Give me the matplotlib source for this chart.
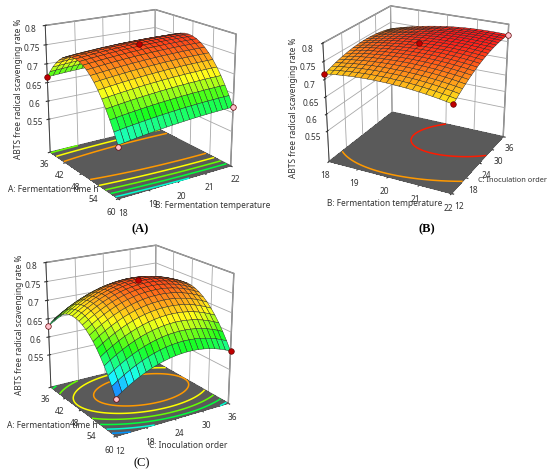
import numpy as np
import matplotlib
matplotlib.use('Agg')
import matplotlib.pyplot as plt
from matplotlib.colors import LinearSegmentedColormap, Normalize
from mpl_toolkits.mplot3d import proj3d

plt.rcParams['font.family'] = ['Noto Sans', 'DejaVu Sans']
plt.rcParams['grid.color'] = '#a8a8a8'
plt.rcParams['grid.linewidth'] = 0.6

# ---- factor levels / ticks ----
time_ticks = [36, 42, 48, 54, 60]          # A: Fermentation time h
temp_ticks = [18, 19, 20, 21, 22]          # B: Fermentation temperature
order_ticks = [12, 18, 24, 30, 36]         # C: Inoculation order
z_ticks = [0.55, 0.6, 0.65, 0.7, 0.75, 0.8]
z_range = [0.457, 0.8]

# ---- quadratic model coefficients (coded units): b0, b_x, b_y, b_xy, b_xx, b_yy ----
coef_A = [0.758, -0.0325, 0.0075, 0.005, -0.118, -0.005]
coef_B = [0.765, 0.0075, 0.02, 0.0125, -0.015, -0.02]
coef_C = [0.756, -0.0325, 0.0175, 0.005, -0.10, -0.046]

# ---- design points ----
ptsA_x = [36, 48, 60, 60]
ptsA_y = [18, 20, 18, 22]
ptsA_z = [0.665, 0.765, 0.585, 0.615]
ptsA_above = [1, 1, 0, 0]

ptsB_x = [18, 20, 22, 22]
ptsB_y = [12, 24, 12, 36]
ptsB_z = [0.715, 0.772, 0.705, 0.77]
ptsB_above = [1, 1, 1, 0]

ptsC_x = [36, 48, 60, 60]
ptsC_y = [12, 24, 12, 36]
ptsC_z = [0.63, 0.768, 0.553, 0.60]
ptsC_above = [0, 1, 0, 1]

contour_levels = [0.58, 0.61, 0.64, 0.67, 0.70, 0.73, 0.765]

cmap = LinearSegmentedColormap.from_list(
    'de', [(0.0, '#0000ff'), (0.21, '#00ffff'), (0.42, '#00ff00'),
           (0.625, '#ffff00'), (0.78, '#ff8000'), (0.93, '#ff0000'), (1.0, '#ff0000')])
norm = Normalize(vmin=0.55, vmax=0.79)

W, H = 550, 476
fig = plt.figure(figsize=(W / 100, H / 100), dpi=100)
TXT = '#333333'

# where the reference shows the box corners (pixels from top-left):
# left-floor, front-floor, right-floor, left-top, back-top, right-top
boxA = [(48, 152), (118, 200), (232, 165), (48, 25), (155, 10), (235, 34)]
boxB = [(326, 162), (453, 195), (505, 135), (325, 41), (392, 5), (505, 27)]
boxC = [(50, 387), (115, 437), (230, 403), (48, 263), (155, 245), (233, 273)]


def ftext(x, y, s, **kw):
    fig.text(x / W, 1 - y / H, s, **kw)


def panel(rect, xt, yt, coef, px, py, pz, above):
    ax = fig.add_axes(rect, projection='3d', computed_zorder=False)
    b0, bx, by, bxy, bxx, byy = coef

    def model(X, Y):
        a = (X - xt[2]) / (xt[-1] - xt[2])
        b = (Y - yt[2]) / (yt[-1] - yt[2])
        return b0 + bx * a + by * b + bxy * a * b + bxx * a * a + byy * b * b

    x = np.linspace(xt[0], xt[-1], 21)
    y = np.linspace(yt[0], yt[-1], 21)
    X, Y = np.meshgrid(x, y)
    Z = model(X, Y)
    xf = np.linspace(xt[0], xt[-1], 121)
    yf = np.linspace(yt[0], yt[-1], 121)
    XF, YF = np.meshgrid(xf, yf)
    ZF = model(XF, YF)

    zmin = z_range[0]
    X2, Y2 = np.meshgrid([xt[0], xt[-1]], [yt[0], yt[-1]])
    ax.plot_surface(X2, Y2, np.full_like(X2, zmin, dtype=float), color='#5a5a5a',
                    shade=False, linewidth=0, antialiased=False, zorder=1)
    ax.contour(XF, YF, ZF, levels=contour_levels, zdir='z', offset=zmin,
               cmap=cmap, norm=norm, linewidths=1.1, zorder=2)
    fc = cmap(norm(Z))
    fc[..., :3] = 0.1 + 0.9 * fc[..., :3]
    ax.plot_surface(X, Y, Z, facecolors=fc, edgecolor='#202020', linewidth=0.3,
                    shade=False, rstride=1, cstride=1, zorder=3)
    for xi, yi, zi, ab in zip(px, py, pz, above):
        ax.scatter([xi], [yi], [zi], s=16, c='#c00000' if ab else '#ffc0cc',
                   edgecolors='#600000', linewidths=0.5, depthshade=False, zorder=5)

    ax.set_xlim(xt[0], xt[-1])
    ax.set_ylim(yt[0], yt[-1])
    ax.set_zlim(*z_range)
    ax.set_xticks(xt)
    ax.set_yticks(yt)
    ax.set_zticks(z_ticks)
    ax.set_zticklabels([f'{v:g}' for v in z_ticks])

    for axis in (ax.xaxis, ax.yaxis):
        axis.set_pane_color((1, 1, 1, 1))
        axis.pane.set_edgecolor('#606060')
    ax.zaxis.set_pane_color((1, 1, 1, 0))
    for axis in (ax.xaxis, ax.yaxis, ax.zaxis):
        axis.line.set_color('#404040')
        axis.line.set_linewidth(0.7)
        axis.set_rotate_label(False)
        axis._axinfo['grid'].update(color='#a8a8a8', linewidth=0.6)
    ax.zaxis.set_ticks_position('lower')
    ax.zaxis.set_label_position('lower')
    ax.tick_params(axis='x', labelsize=6, pad=-3, colors=TXT)
    ax.tick_params(axis='y', labelsize=6, pad=-3, colors=TXT)
    ax.tick_params(axis='z', labelsize=6, pad=-1, colors=TXT)
    ax.set_zlabel('ABTS free radical scavenging rate %', fontsize=6,
                  color=TXT, rotation=90, labelpad=-6)
    return ax


def corners(ax):
    x0, x1 = ax.get_xlim()
    y0, y1 = ax.get_ylim()
    z0, z1 = ax.get_zlim()
    cx = np.array([x0, x1, x1, x0, x0, x1])
    cy = np.array([y0, y0, y1, y0, y1, y1])
    cz = np.array([z0, z0, z0, z1, z1, z1])
    return cx, cy, cz


def set_camera(ax, p, zoom=1.0):
    elev, azim, logf, asx, asz = p
    ax.view_init(elev=elev, azim=azim)
    ax.set_proj_type('persp', focal_length=float(np.exp(logf)) * zoom)
    ax.set_box_aspect((asx, 1.0, asz), zoom=zoom)


def proj2d(ax):
    cx, cy, cz = corners(ax)
    xs, ys, _ = proj3d.proj_transform(cx, cy, cz, ax.get_proj())
    return np.column_stack([xs, ys])


def sim_fit(P, T):
    Pm, Tm = P.mean(0), T.mean(0)
    s = np.sum((P - Pm) * (T - Tm)) / np.sum((P - Pm) ** 2)
    t = Tm - s * Pm
    return s, t, np.sum((s * P + t - T) ** 2)


def nelder_mead(f, x0, steps, iters=500):
    pts = [np.array(x0, float)]
    for i in range(len(x0)):
        p = np.array(x0, float)
        p[i] += steps[i]
        pts.append(p)
    vals = [f(p) for p in pts]
    for _ in range(iters):
        order = np.argsort(vals)
        pts = [pts[i] for i in order]
        vals = [vals[i] for i in order]
        c = np.mean(pts[:-1], axis=0)
        xr = c + (c - pts[-1])
        fr = f(xr)
        if fr < vals[0]:
            xe = c + 2 * (c - pts[-1])
            fe = f(xe)
            pts[-1], vals[-1] = (xe, fe) if fe < fr else (xr, fr)
        elif fr < vals[-2]:
            pts[-1], vals[-1] = xr, fr
        else:
            xc = c + 0.5 * (pts[-1] - c)
            fcv = f(xc)
            if fcv < vals[-1]:
                pts[-1], vals[-1] = xc, fcv
            else:
                for i in range(1, len(pts)):
                    pts[i] = pts[0] + 0.5 * (pts[i] - pts[0])
                    vals[i] = f(pts[i])
    return pts[int(np.argmin(vals))]


def fit_camera(ax, target, p0):
    T = np.array([(x, H - y) for x, y in target], float)

    def cost(p):
        if not (5 < p[0] < 70 and -120 < p[1] < 0 and -2.5 < p[2] < 2.0
                and 0.5 < p[3] < 2 and 0.5 < p[4] < 2):
            return 1e12
        set_camera(ax, p)
        return sim_fit(proj2d(ax), T)[2]

    p = nelder_mead(cost, p0, [3, 5, 0.4, 0.1, 0.1])
    p = nelder_mead(cost, p, [1, 2, 0.2, 0.05, 0.05])
    set_camera(ax, p)
    zoom = 1.0
    for _ in range(3):
        fig.canvas.draw()
        P = ax.transData.transform(proj2d(ax))
        s, t, _ = sim_fit(P, T)
        zoom *= s
        set_camera(ax, p, zoom)
        fig.canvas.draw()
        P = ax.transData.transform(proj2d(ax))
        d = (T - P).mean(0)
        pos = ax.get_position(original=True)
        ax.set_position([pos.x0 + d[0] / W, pos.y0 + d[1] / H, pos.width, pos.height])


axA = panel([0.0, 0.5, 0.47, 0.5], time_ticks, temp_ticks, coef_A,
            ptsA_x, ptsA_y, ptsA_z, ptsA_above)
axB = panel([0.5, 0.5, 0.5, 0.5], temp_ticks, order_ticks, coef_B,
            ptsB_x, ptsB_y, ptsB_z, ptsB_above)
axC = panel([0.0, 0.02, 0.47, 0.5], time_ticks, order_ticks, coef_C,
            ptsC_x, ptsC_y, ptsC_z, ptsC_above)
for a in (axA, axB, axC):
    set_camera(a, (28, -40, np.log(0.6), 1.0, 1.05))
fig.canvas.draw()
fit_camera(axA, boxA, [27, -34, np.log(0.6), 1.0, 1.05])
fit_camera(axB, boxB, [33, -64, np.log(0.6), 1.0, 1.05])
fit_camera(axC, boxC, [30, -32, np.log(0.6), 1.0, 1.05])

lab = dict(fontsize=6, color=TXT, va='center')
ftext(98, 190, 'A: Fermentation time h', ha='right', **lab)
ftext(155, 206, 'B: Fermentation temperature', ha='left', **lab)
ftext(327, 203, 'B: Fermentation temperature', ha='left', **lab)
ftext(547, 180, 'C: Inoculation order', ha='right', fontsize=5.3, color=TXT, va='center')
ftext(97, 426, 'A: Fermentation time h', ha='right', **lab)
ftext(149, 446, 'C: Inoculation order', ha='left', **lab)

ftext(140, 229, '(A)', fontsize=9, fontweight='bold', family='Liberation Serif', ha='center', va='center')
ftext(427, 229, '(B)', fontsize=9, fontweight='bold', family='Liberation Serif', ha='center', va='center')
ftext(142, 463, '(C)', fontsize=9, family='Liberation Serif', ha='center', va='center')

fig.savefig('out.png', dpi=100)
